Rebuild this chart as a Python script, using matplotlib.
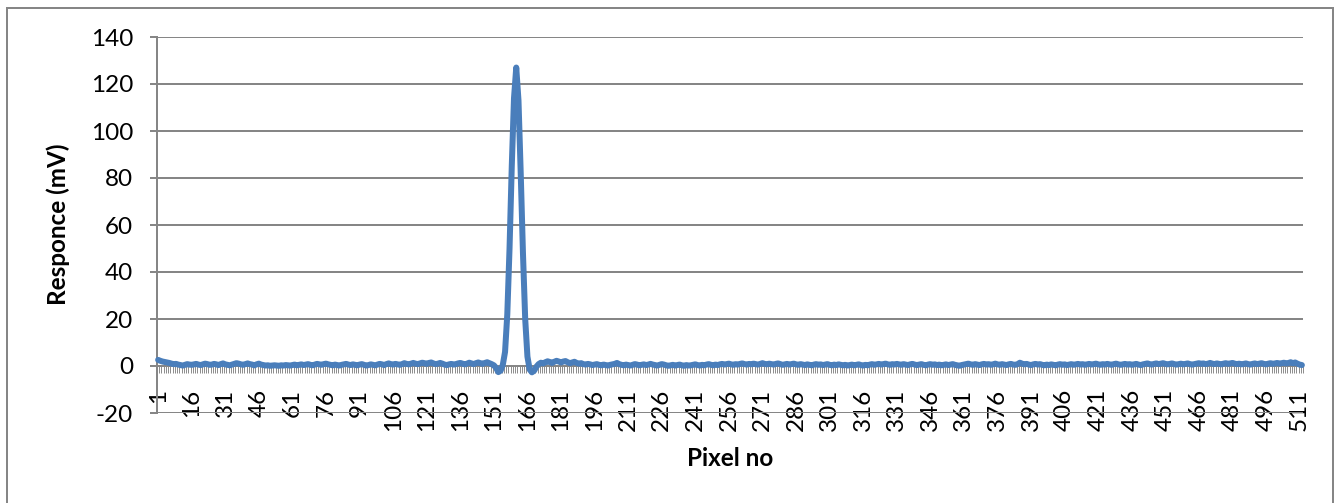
import matplotlib
matplotlib.use("Agg")
import matplotlib.pyplot as plt
import matplotlib.patches as mpatches
import numpy as np

# ---- data ----
pixel_no = list(range(1, 513))
responce_mv = [
    2.6, 2.2, 1.9, 1.7, 1.5, 1.3, 1.0, 0.8, 0.9, 0.6, 0.4, 0.2, 0.5, 0.8, 0.6, 0.5,
    0.7, 0.9, 0.6, 0.4, 0.7, 1.0, 0.8, 0.5, 0.6, 0.9, 0.7, 0.4, 0.8, 1.1, 0.7, 0.5,
    0.3, 0.6, 0.9, 1.2, 1.0, 0.7, 0.5, 0.8, 1.1, 0.8, 0.6, 0.3, 0.7, 1.0, 0.6, 0.4,
    0.2, 0.3, 0.1, 0.2, 0.3, 0.2, 0.1, 0.3, 0.2, 0.4, 0.3, 0.2, 0.4, 0.6, 0.3, 0.5,
    0.7, 0.4, 0.6, 0.8, 0.5, 0.3, 0.6, 0.9, 0.7, 0.5, 0.8, 1.0, 0.7, 0.5, 0.3, 0.6,
    0.4, 0.2, 0.5, 0.7, 0.9, 0.6, 0.4, 0.7, 0.5, 0.3, 0.6, 0.8, 0.5, 0.2, 0.4, 0.7,
    0.5, 0.3, 0.6, 0.9, 0.7, 0.4, 0.8, 1.1, 0.8, 0.6, 0.9, 0.7, 0.5, 0.8, 1.2, 0.9,
    0.7, 1.0, 1.3, 1.0, 0.8, 1.1, 1.4, 1.2, 0.9, 1.3, 1.5, 1.1, 0.8, 1.0, 1.3, 1.0,
    0.6, 0.4, 0.7, 0.9, 0.6, 0.8, 1.1, 1.3, 1.0, 0.7, 1.0, 1.4, 1.1, 0.8, 1.2, 1.5,
    1.2, 0.9, 1.3, 1.6, 1.2, 0.8, 0.3, -0.8, -2.6, -2.0, 0.5, 6.0, 22.0, 50.0, 85.0, 114.0,
    127.0, 113.0, 82.0, 48.0, 20.0, 4.0, -1.5, -2.7, -2.0, -0.3, 0.8, 1.4, 1.1, 1.6, 2.0, 1.7,
    1.3, 1.8, 2.2, 1.9, 1.5, 1.9, 2.1, 1.6, 1.2, 1.5, 1.8, 1.3, 1.0, 1.2, 0.8, 0.6,
    0.9, 0.7, 0.4, 0.6, 0.8, 0.5, 0.3, 0.6, 0.4, 0.2, 0.5, 0.7, 0.9, 1.3, 0.8, 0.5,
    0.3, 0.6, 0.4, 0.2, 0.5, 0.8, 0.6, 0.3, 0.5, 0.7, 0.4, 0.6, 0.9, 0.6, 0.4, 0.2,
    0.5, 0.8, 0.6, 0.3, 0.1, 0.3, 0.5, 0.2, 0.4, 0.6, 0.3, 0.1, 0.4, 0.2, 0.3, 0.5,
    0.7, 0.4, 0.2, 0.5, 0.3, 0.6, 0.8, 0.5, 0.3, 0.6, 0.4, 0.7, 0.9, 0.6, 0.8, 1.0,
    0.7, 0.5, 0.8, 0.6, 0.9, 1.1, 0.8, 0.6, 0.9, 0.7, 1.0, 0.8, 0.6, 0.9, 1.2, 0.9,
    0.7, 1.0, 0.8, 0.6, 0.9, 1.1, 0.8, 0.5, 0.7, 0.9, 0.6, 0.8, 1.0, 0.7, 0.5, 0.8,
    0.6, 0.4, 0.7, 0.5, 0.3, 0.6, 0.8, 0.5, 0.7, 0.4, 0.6, 0.8, 0.5, 0.3, 0.6, 0.4,
    0.7, 0.5, 0.3, 0.5, 0.2, 0.4, 0.6, 0.3, 0.5, 0.7, 0.4, 0.2, 0.5, 0.3, 0.6, 0.8,
    0.5, 0.7, 0.9, 0.6, 0.8, 1.0, 0.7, 0.5, 0.8, 0.6, 0.9, 0.7, 0.5, 0.8, 0.6, 0.4,
    0.7, 0.9, 0.6, 0.4, 0.6, 0.8, 0.5, 0.3, 0.6, 0.8, 0.5, 0.7, 0.4, 0.6, 0.3, 0.5,
    0.7, 0.4, 0.6, 0.8, 0.5, 0.3, 0.1, 0.4, 0.6, 0.8, 1.0, 0.7, 0.5, 0.8, 0.6, 0.4,
    0.7, 0.9, 0.6, 0.8, 0.5, 0.7, 1.0, 0.7, 0.5, 0.8, 0.6, 0.4, 0.7, 0.9, 0.6, 0.5,
    0.8, 1.4, 1.0, 0.7, 0.9, 0.6, 0.4, 0.7, 0.9, 0.6, 0.8, 0.5, 0.3, 0.6, 0.4, 0.7,
    0.5, 0.3, 0.6, 0.8, 0.5, 0.7, 0.4, 0.6, 0.8, 0.5, 0.7, 0.9, 0.6, 0.8, 0.5, 0.7,
    0.9, 0.6, 0.8, 1.0, 0.7, 0.5, 0.8, 0.6, 0.9, 0.7, 0.5, 0.8, 1.0, 0.7, 0.5, 0.7,
    0.9, 0.6, 0.8, 0.5, 0.7, 0.9, 0.6, 0.4, 0.7, 0.9, 1.1, 0.8, 0.6, 0.9, 1.1, 0.8,
    1.0, 1.2, 0.9, 0.7, 0.9, 1.1, 0.8, 0.6, 0.8, 1.0, 0.7, 0.9, 1.1, 0.8, 0.6, 0.8,
    1.0, 1.2, 0.9, 1.1, 0.8, 1.0, 1.3, 1.0, 0.8, 1.1, 0.9, 0.7, 1.0, 1.2, 0.9, 1.1,
    1.3, 1.0, 0.8, 1.0, 0.7, 0.9, 1.1, 0.8, 0.6, 0.9, 1.1, 0.8, 1.0, 1.2, 0.9, 0.7,
    1.0, 1.2, 0.9, 1.1, 1.3, 1.0, 1.2, 1.4, 1.1, 1.3, 1.6, 1.2, 1.5, 1.0, 0.6, 0.4,
]
x_tick_labels = [str(v) for v in range(1, 513, 15)]
y_ticks = [-20, 0, 20, 40, 60, 80, 100, 120, 140]

# ---- style ----
W, H = 1338, 503
DPI = 100
GRID = "#868686"
LINE = "#4A7EBB"
px = 72.0 / DPI  # points per pixel

plt.rcParams["font.family"] = ["Lato", "DejaVu Sans"]
plt.rcParams["axes.unicode_minus"] = False

fig = plt.figure(figsize=(W / DPI, H / DPI), dpi=DPI)
ax = fig.add_axes([157 / W, 1 - 413 / H, (1303 - 157) / W, (413 - 37) / H])

ax.plot(pixel_no, responce_mv, color=LINE, lw=6 * px, solid_joinstyle="round",
        solid_capstyle="round", zorder=3, clip_on=False)

ax.set_xlim(0.5, len(pixel_no) + 0.5)
ax.set_ylim(-20, 140)
ax.set_yticks(y_ticks)
ax.yaxis.grid(True, color=GRID, lw=2 * px)
ax.set_axisbelow(True)

for s in ("top", "right"):
    ax.spines[s].set_visible(False)
ax.spines["left"].set_color(GRID)
ax.spines["left"].set_linewidth(2 * px)
ax.spines["bottom"].set_position(("data", 0))
ax.spines["bottom"].set_color(GRID)
ax.spines["bottom"].set_linewidth(2 * px)

ax.tick_params(axis="y", direction="out", length=7 * px, width=2 * px, color=GRID,
               pad=17 * px, labelsize=17.5)

major_pos = [int(t) for t in x_tick_labels]
ax.set_xticks(major_pos)
ax.set_xticklabels(x_tick_labels, rotation=90)
ax.set_xticks(np.arange(0.5, len(pixel_no) + 1, 1.0), minor=True)
ax.tick_params(axis="x", which="major", length=0, pad=23 * px, labelsize=17.5)
ax.tick_params(axis="x", which="minor", direction="out", length=7 * px,
               width=1 * px, color="#8f8f8f")

fig.text(730 / W, 1 - 459 / H, "Pixel no", ha="center", va="center",
         fontsize=17.5, fontweight="bold")
fig.text(58 / W, 1 - 224 / H, "Responce (mV)", ha="center", va="center",
         rotation=90, fontsize=17.5, fontweight="bold")

border = mpatches.Rectangle((7 / W, -0.05), (1333 - 7) / W, 1 - 8 / H + 0.05,
                            transform=fig.transFigure, fill=False,
                            edgecolor=GRID, lw=2 * px)
fig.patches.append(border)

fig.savefig("out.png", dpi=DPI)
